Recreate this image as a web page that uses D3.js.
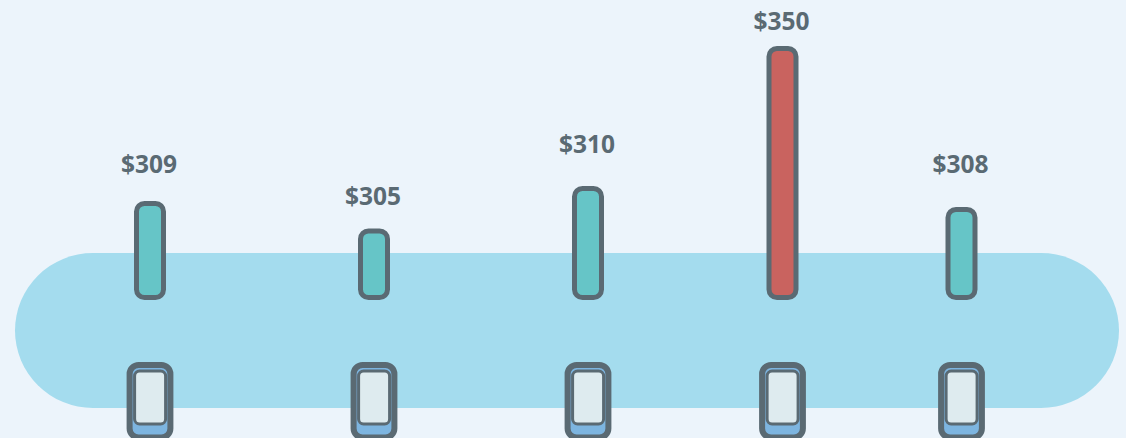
<!DOCTYPE html>
<html>
<head>
<meta charset="utf-8">
<script src="https://cdn.jsdelivr.net/npm/d3@7"></script>
<style>
    html, body { margin: 0; padding: 0; background: #ecf4fb; overflow: hidden; }
</style>
</head>
<body>
<div class="container"></div>
<script>
const width = 1126;
const height = 438;

// distance of each stop along the track
const stops = [135, 359, 573, 767.5, 946.5];
const prices = [309, 305, 310, 350, 308];
const highlighted = [350];

const dark = '#5a6a73';

const svg = d3.select('.container')
    .append('svg')
    .attr('width', width)
    .attr('height', height)
    .style('display', 'block');

const xscale = d3.scaleLinear().domain([0, 1104]).range([15, 1119]);

// bars are not proportional to the rounded labels, so the scales are piecewise
const yscale = d3.scaleLinear()
    .domain([305, 308, 309, 310, 350])
    .range([231, 209.5, 203.5, 188.5, 48.5]);
const labelScale = d3.scaleLinear()
    .domain([305, 308, 309, 310, 350])
    .range([204.5, 172.5, 172.5, 152.5, 29.5]);
const baseY = 297.5;

svg.append('rect')
    .attr('x', 15)
    .attr('y', 253)
    .attr('width', 1104)
    .attr('height', 155)
    .attr('rx', 78)
    .attr('fill', '#a4dcee');

const rows = stops.map((s, i) => ({ stop: s, price: prices[i] }));

svg.selectAll('.bar')
    .data(rows)
    .enter()
    .append('rect')
    .attr('class', 'bar')
    .attr('x', d => xscale(d.stop) - 13.5)
    .attr('y', d => yscale(d.price))
    .attr('width', 27)
    .attr('height', d => baseY - yscale(d.price))
    .attr('rx', 8)
    .attr('fill', d => highlighted.includes(d.price) ? '#c9635f' : '#66c5c7')
    .attr('stroke', dark)
    .attr('stroke-width', 5);

svg.selectAll('.label')
    .data(rows)
    .enter()
    .append('text')
    .attr('class', 'label')
    .attr('x', d => xscale(d.stop) - 1)
    .attr('y', d => labelScale(d.price))
    .attr('text-anchor', 'middle')
    .attr('font-family', '"Open Sans"')
    .attr('font-weight', 700)
    .attr('font-size', 24.5)
    .attr('fill', dark)
    .text(d => '$' + d.price);

svg.selectAll('.phone')
    .data(rows)
    .enter()
    .append('rect')
    .attr('class', 'phone')
    .attr('x', d => xscale(d.stop) - 20.4)
    .attr('y', 365)
    .attr('width', 40.8)
    .attr('height', 72.5)
    .attr('rx', 9)
    .attr('fill', '#7db5e0')
    .attr('stroke', dark)
    .attr('stroke-width', 6);

svg.selectAll('.screen')
    .data(rows)
    .enter()
    .append('rect')
    .attr('class', 'screen')
    .attr('x', d => xscale(d.stop) - 15.4)
    .attr('y', 371)
    .attr('width', 31)
    .attr('height', 53)
    .attr('rx', 5)
    .attr('fill', '#deebef')
    .attr('stroke', dark)
    .attr('stroke-width', 3);
</script>
</body>
</html>
